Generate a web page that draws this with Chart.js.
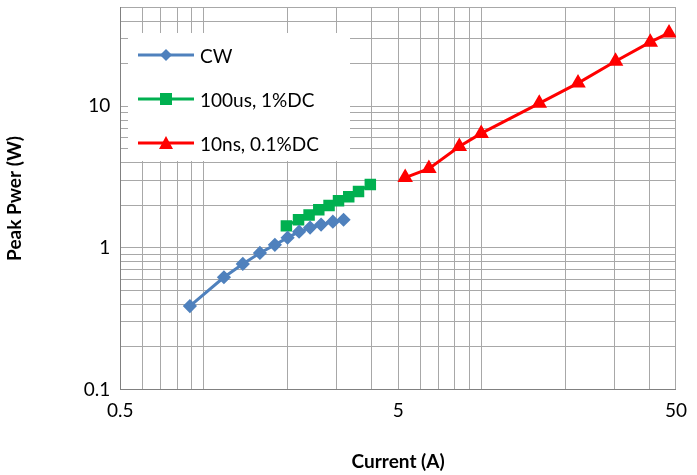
<!DOCTYPE html>
<html>
<head>
<meta charset="utf-8">
<script src="https://cdn.jsdelivr.net/npm/chart.js@4.4.0/dist/chart.umd.min.js"></script>
<style>
  body { margin: 0; background: #fff; overflow: hidden; }
  #wrap { position: relative; width: 697px; height: 475px; overflow: hidden; }
  #chart { position: absolute; left: 0; top: -14px; }
  #legend { position: absolute; left: 128px; top: 33px; width: 222px; height: 128px; background: #fff;
            font-family: Lato, "Open Sans", sans-serif; font-size: 19px; color: #000; }
  .item { position: absolute; left: 8px; height: 24px; display: flex; align-items: center; }
  .item canvas { margin-right: 4px; }
</style>
</head>
<body>
<div id="wrap">
  <canvas id="chart" width="697" height="489"></canvas>
  <div id="legend"></div>
</div>
<script>
// data
const cwCurrent = [0.89, 1.18, 1.38, 1.59, 1.80, 2.0, 2.2, 2.41, 2.64, 2.91, 3.18];
const cwPower = [0.388, 0.62, 0.77, 0.92, 1.05, 1.18, 1.30, 1.39, 1.46, 1.53, 1.58];
const usCurrent = [1.98, 2.19, 2.39, 2.59, 2.82, 3.05, 3.32, 3.60, 3.97];
const usPower = [1.43, 1.58, 1.71, 1.86, 1.99, 2.15, 2.30, 2.50, 2.80];
const nsCurrent = [5.3, 6.45, 8.3, 9.95, 16.1, 22.2, 30.3, 40.4, 47.2];
const nsPower = [3.14, 3.63, 5.2, 6.44, 10.5, 14.6, 20.8, 28.4, 33];

const xTicks = [0.5, 0.6, 0.7, 0.8, 0.9, 1, 2, 3, 4, 5, 6, 7, 8, 9, 10, 20, 30, 40, 50];
const xLabels = [0.5, 5, 50];
const yTicks = [0.1, 0.2, 0.3, 0.4, 0.5, 0.6, 0.7, 0.8, 0.9, 1, 2, 3, 4, 5, 6, 7, 8, 9, 10, 20, 30, 40, 50];
const yLabels = [0.1, 1, 10];

const series = [
    { label: "CW", x: cwCurrent, y: cwPower, color: "#4f81bd", style: "rectRot", r: 5 },
    { label: "100us, 1%DC", x: usCurrent, y: usPower, color: "#00b050", style: "rect", r: 6 },
    { label: "10ns, 0.1%DC", x: nsCurrent, y: nsPower, color: "#ff0000", style: "triangle", r: 6 }
];

const font = "Lato, 'Open Sans', sans-serif";

new Chart(document.getElementById("chart"), {
    type: "line",
    data: {
        datasets: series.map(s => ({
            label: s.label,
            data: s.x.map((v, i) => ({ x: v, y: s.y[i] })),
            borderColor: s.color,
            backgroundColor: s.color,
            borderWidth: 3,
            pointStyle: s.style,
            pointRadius: s.r,
            pointHoverRadius: s.r
        }))
    },
    options: {
        responsive: false,
        animation: false,
        layout: { padding: { right: 7, top: 0, left: 3, bottom: 2 } },
        plugins: { legend: { display: false }, tooltip: { enabled: false } },
        scales: {
            x: {
                type: "logarithmic", min: 0.5, max: 50,
                afterBuildTicks: ax => { ax.ticks = xTicks.map(v => ({ value: v })); },
                ticks: { autoSkip: false, maxRotation: 0, color: "#000", padding: 10, font: { family: font, size: 19 },
                         callback: v => xLabels.includes(v) ? String(v) : "" },
                grid: { color: "#a8a8a8", drawTicks: false },
                border: { color: "#808080" },
                title: { display: true, text: "Current (A)", color: "#000", padding: { top: 18, bottom: 0 },
                         font: { family: font, size: 19, weight: "bold" } }
            },
            y: {
                type: "logarithmic", min: 0.1, max: 50,
                afterBuildTicks: ax => { ax.ticks = yTicks.map(v => ({ value: v })); },
                ticks: { autoSkip: false, color: "#000", padding: 10, font: { family: font, size: 19 },
                         callback: v => yLabels.includes(v) ? String(v) : "" },
                grid: { color: "#a8a8a8", drawTicks: false },
                border: { color: "#808080" },
                title: { display: true, text: "Peak Pwer (W)", color: "#000", padding: { top: 0, bottom: 48 },
                         font: { family: font, size: 19, weight: "bold" } }
            }
        }
    }
});

// legend overlay
const legend = document.getElementById("legend");
series.forEach((s, i) => {
    const item = document.createElement("div");
    item.className = "item";
    item.style.top = (10 + i * 44) + "px";
    const c = document.createElement("canvas");
    c.width = 60; c.height = 20;
    const g = c.getContext("2d");
    g.strokeStyle = s.color; g.fillStyle = s.color; g.lineWidth = 3;
    g.beginPath(); g.moveTo(2, 10); g.lineTo(58, 10); g.stroke();
    g.beginPath();
    if (s.style === "rectRot") { g.moveTo(30, 4); g.lineTo(36, 10); g.lineTo(30, 16); g.lineTo(24, 10); }
    else if (s.style === "rect") { g.rect(24, 4, 12, 12); }
    else { g.moveTo(30, 3); g.lineTo(37, 16); g.lineTo(23, 16); }
    g.closePath(); g.fill();
    item.appendChild(c);
    const t = document.createElement("span");
    t.textContent = s.label;
    item.appendChild(t);
    legend.appendChild(item);
});
</script>
</body>
</html>
